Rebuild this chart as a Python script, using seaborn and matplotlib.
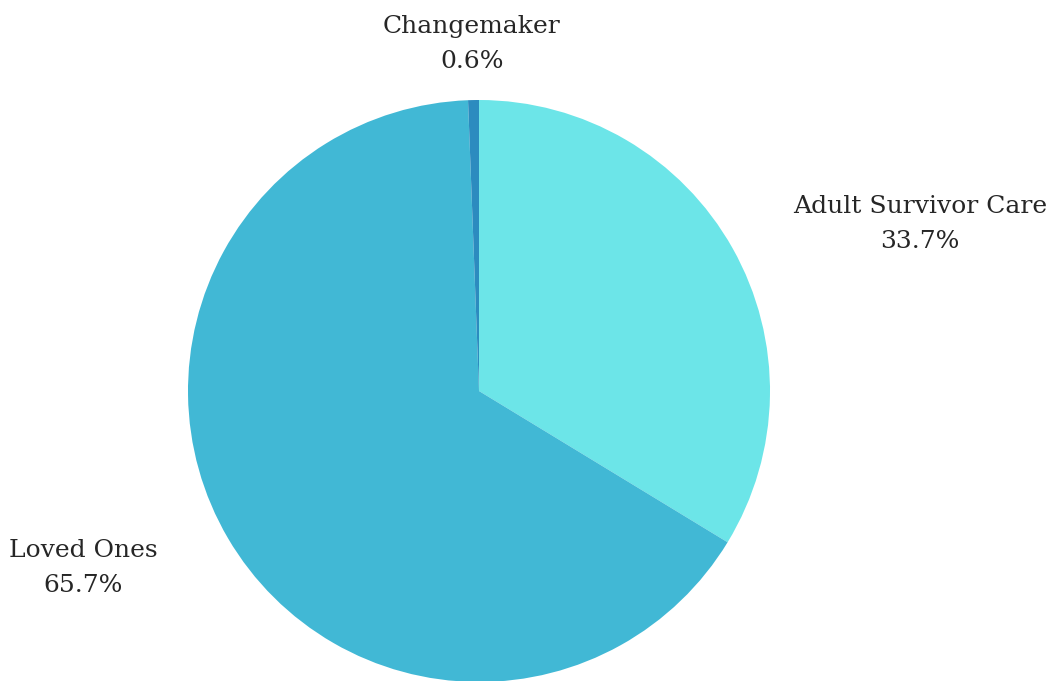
import matplotlib
matplotlib.use("Agg")
import matplotlib.pyplot as plt
import seaborn as sns

sns.set_theme(style="white")
plt.rcParams["font.family"] = ["DejaVu Serif"]

categories = ["Adult Survivor Care", "Loved Ones", "Changemaker"]
shares = [33.7, 65.7, 0.6]
colors = ["#6CE5E8", "#41B8D5", "#2C8BBF"]

W, H = 1063, 681
fig = plt.figure(figsize=(W / 100, H / 100), dpi=100)
fig.patch.set_facecolor("white")

# pie occupies a square region in pixel space
cx, cy, r = 479, 391, 291
ax = fig.add_axes([(cx - r) / W, (H - cy - r) / H, 2 * r / W, 2 * r / H])
ax.pie(shares, colors=colors, startangle=90, counterclock=False,
       radius=1.0, wedgeprops=dict(linewidth=0))
ax.set_xlim(-1, 1)
ax.set_ylim(-1, 1)
ax.set_aspect("equal")
ax.axis("off")

# label positions (pixel coordinates, top-left origin)
label_pos = {
    "Adult Survivor Care": (920, 224),
    "Loved Ones": (83, 568),
    "Changemaker": (472, 44),
}
for name, val in zip(categories, shares):
    x, y = label_pos[name]
    fig.text(x / W, 1 - y / H, f"{name}\n{val}%", ha="center", va="center",
             fontsize=18, color="#262626", linespacing=1.72)

fig.savefig("out.png", dpi=100, facecolor="white")
